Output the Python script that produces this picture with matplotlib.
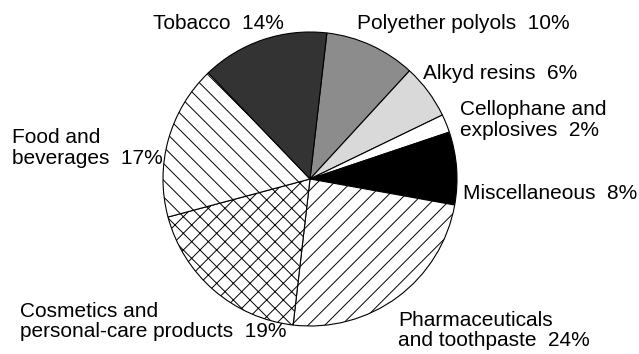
import matplotlib.pyplot as plt

plt.rcParams['font.family'] = ['Liberation Sans', 'DejaVu Sans']
plt.rcParams['hatch.linewidth'] = 0.7

# end uses, clockwise from the top
names = ["Polyether polyols", "Alkyd resins", "Cellophane and\nexplosives", "Miscellaneous",
         "Pharmaceuticals\nand toothpaste", "Cosmetics and\npersonal-care products",
         "Food and\nbeverages", "Tobacco"]
shares = [10, 6, 2, 8, 24, 19, 17, 14]
fills = ["#8c8c8c", "#d9d9d9", "white", "black", "white", "white", "white", "#333333"]
hatches = [None, None, None, None, "//", "xx", "\\\\", None]

# label anchors (left edge, vertical centre) in axis units
label_pos = [(0.32, 1.06), (0.77, 0.72), (1.02, 0.40), (1.04, -0.10),
             (0.60, -1.03), (-1.97, -0.97), (-2.03, 0.21), (-1.07, 1.06)]

fig = plt.figure(figsize=(6.39, 3.54), dpi=100)
ax = fig.add_axes([0, 0, 1, 1])

wedges, _ = ax.pie(shares, startangle=83.4, counterclock=False, colors=fills,
                   radius=1.0, wedgeprops=dict(edgecolor="black", linewidth=0.8))
for w, h in zip(wedges, hatches):
    if h:
        w.set_hatch(h)

for name, v, (x, y) in zip(names, shares, label_pos):
    ax.text(x, y, f"{name}  {v}%", ha="left", va="center", fontsize=15,
            linespacing=1.1)

ax.set_xlim(-310 / 147, (639 - 310) / 147)
ax.set_ylim(-175 / 147, (354 - 175) / 147)
ax.set_aspect("auto")
ax.axis("off")

plt.savefig("out.png", dpi=100)
